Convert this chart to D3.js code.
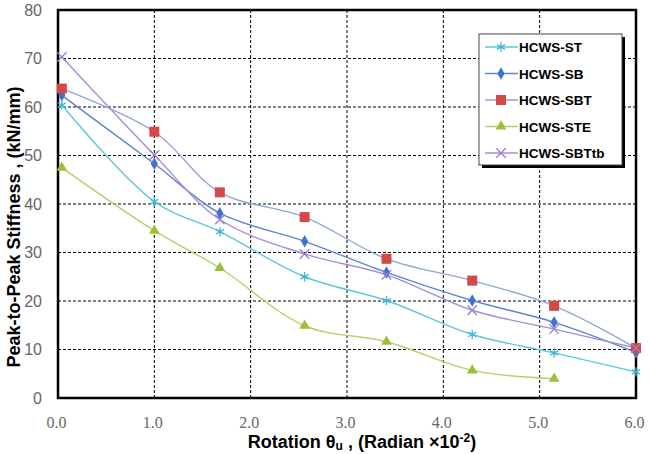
<!DOCTYPE html>
<html>
<head>
<meta charset="utf-8">
<script src="https://cdn.jsdelivr.net/npm/d3@7"></script>
<style>
body { margin: 0; background: #fff; }
.grid line { stroke: #000; stroke-dasharray: 3,2; stroke-width: 1; }
</style>
</head>
<body>
<script>
// rotation values (x 10^-2 rad)
var rot = [0.04, 1.0, 1.68, 2.56, 3.41, 4.30, 5.15, 6.0];

// stiffness per specimen (kN/mm)
var hcwsST    = [60.4, 40.5, 34.3, 25.0, 20.1, 13.1, 9.3, 5.4];
var hcwsSB    = [62.4, 48.3, 38.1, 32.3, 25.9, 20.1, 15.6, 9.4];
var hcwsSBT   = [63.8, 54.9, 42.4, 37.3, 28.7, 24.2, 19.0, 10.3];
var hcwsSTE   = [47.5, 34.5, 26.8, 14.9, 11.6, 5.7, 4.0];
var hcwsSBTtb = [70.3, 50.1, 36.8, 29.7, 25.4, 18.1, 14.2, 10.3];

var names = ["HCWS-ST", "HCWS-SB", "HCWS-SBT", "HCWS-STE", "HCWS-SBTtb"];
var xTicks = [0, 1, 2, 3, 4, 5, 6];
var yTicks = [0, 10, 20, 30, 40, 50, 60, 70, 80];

var series = [
  {name: names[0], vals: hcwsST,    line: "#5fc6e0", mark: "#3bb8d8", sym: "star"},
  {name: names[1], vals: hcwsSB,    line: "#5b86d0", mark: "#3f74cc", sym: "diamond"},
  {name: names[2], vals: hcwsSBT,   line: "#8ea6d8", mark: "#d44848", sym: "square"},
  {name: names[3], vals: hcwsSTE,   line: "#b5d06a", mark: "#9cc03a", sym: "triangle"},
  {name: names[4], vals: hcwsSBTtb, line: "#a58ed6", mark: "#9a7dd0", sym: "cross"}
];

var margin = {top: 10, right: 14, bottom: 56, left: 58}
  , width = 650 - margin.left - margin.right
  , height = 454 - margin.top - margin.bottom;

var svg = d3.select("body").append("svg")
    .attr("width", 650)
    .attr("height", 454)
    .append("g")
    .attr("transform", "translate(" + margin.left + "," + margin.top + ")");

var x = d3.scaleLinear().domain([0, 6]).range([0, width]);
var y = d3.scaleLinear().domain([0, 80]).range([height, 0]);

// dashed grid
svg.append("g").attr("class", "grid")
    .selectAll("line").data(yTicks.slice(1, -1)).enter().append("line")
    .attr("x1", 0).attr("x2", width)
    .attr("y1", d => y(d)).attr("y2", d => y(d));
svg.append("g").attr("class", "grid")
    .selectAll("line").data(xTicks.slice(1, -1)).enter().append("line")
    .attr("y1", 0).attr("y2", height)
    .attr("x1", d => x(d)).attr("x2", d => x(d));

// axes
var xAxis = svg.append("g")
    .attr("transform", "translate(0," + height + ")")
    .call(d3.axisBottom(x).tickValues(xTicks).tickFormat(d3.format(".1f")).tickSize(0).tickPadding(19));
var yAxis = svg.append("g")
    .call(d3.axisLeft(y).tickValues(yTicks).tickSize(0).tickPadding(16));
xAxis.select(".domain").remove();
yAxis.select(".domain").remove();
xAxis.selectAll(".tick text")
    .style("font-family", "Liberation Serif, serif").style("font-size", "16px").attr("fill", "#666")
    .attr("dx", -2);
yAxis.selectAll(".tick text")
    .style("font-family", "Liberation Sans, Arial, sans-serif").style("font-size", "16px").attr("fill", "#666");

// frame
svg.append("rect")
    .attr("width", width).attr("height", height)
    .attr("fill", "none").attr("stroke", "#000").attr("stroke-width", 2.5);

var line = d3.line()
    .x((d, i) => x(rot[i]))
    .y(d => y(d))
    .curve(d3.curveCatmullRom.alpha(0.5));

function symPath(s) {
  if (s == "star") return d3.symbol().type(d3.symbolAsterisk).size(60)();
  if (s == "diamond") return d3.symbol().type(d3.symbolDiamond).size(45)();
  if (s == "square") return d3.symbol().type(d3.symbolSquare).size(100)();
  if (s == "triangle") return d3.symbol().type(d3.symbolTriangle).size(50)();
  return d3.symbol().type(d3.symbolTimes).size(60)();
}
function isStroke(s) { return s == "star" || s == "cross"; }

series.forEach(function(s) {
  svg.append("path")
      .datum(s.vals)
      .attr("d", line)
      .attr("fill", "none")
      .attr("stroke", s.line)
      .attr("stroke-width", 1.4);
});
series.forEach(function(s) {
  svg.selectAll(".m" + s.sym)
      .data(s.vals).enter().append("path")
      .attr("transform", (d, i) => "translate(" + x(rot[i]) + "," + y(d) + ")")
      .attr("d", symPath(s.sym))
      .attr("fill", isStroke(s.sym) ? "none" : s.mark)
      .attr("stroke", isStroke(s.sym) ? s.mark : "none")
      .attr("stroke-width", 1.3);
});

// legend
var lg = svg.append("g").attr("transform", "translate(421,24)");
lg.append("rect").attr("x", 3).attr("y", 3).attr("width", 143).attr("height", 131).attr("fill", "#000");
lg.append("rect").attr("width", 143).attr("height", 131).attr("fill", "#fff").attr("stroke", "#444").attr("stroke-width", 1);
series.forEach(function(s, i) {
  var g = lg.append("g").attr("transform", "translate(0," + (13 + i * 26.5) + ")");
  g.append("line").attr("x1", 6).attr("x2", 39).attr("stroke", s.line).attr("stroke-width", 1.4);
  g.append("path").attr("transform", "translate(22,0)").attr("d", symPath(s.sym))
      .attr("fill", isStroke(s.sym) ? "none" : s.mark)
      .attr("stroke", isStroke(s.sym) ? s.mark : "none").attr("stroke-width", 1.3);
  g.append("text").attr("x", 40).attr("y", 5)
      .style("font-family", "Liberation Sans, Arial, sans-serif")
      .style("font-weight", "bold").style("font-size", "13.5px")
      .text(s.name);
});

// axis labels
svg.append("text")
    .attr("transform", "translate(-38," + (height / 2 + 23) + ") rotate(-90)")
    .attr("text-anchor", "middle")
    .style("font-family", "Liberation Sans, Arial, sans-serif")
    .style("font-weight", "bold").style("font-size", "18px")
    .text("Peak-to-Peak Stiffness , (kN/mm)");

var xl = svg.append("text")
    .attr("x", 304).attr("y", height + 50)
    .attr("text-anchor", "middle")
    .style("font-family", "Liberation Sans, Arial, sans-serif")
    .style("font-weight", "bold").style("font-size", "18px");
xl.append("tspan").text("Rotation θ");
xl.append("tspan").attr("dy", 2).style("font-size", "12px").text("u");
xl.append("tspan").attr("dy", -2).text(" , (Radian ×10");
xl.append("tspan").attr("dy", -6).style("font-size", "12px").text("-2");
xl.append("tspan").attr("dy", 6).text(")");
</script>
</body>
</html>
